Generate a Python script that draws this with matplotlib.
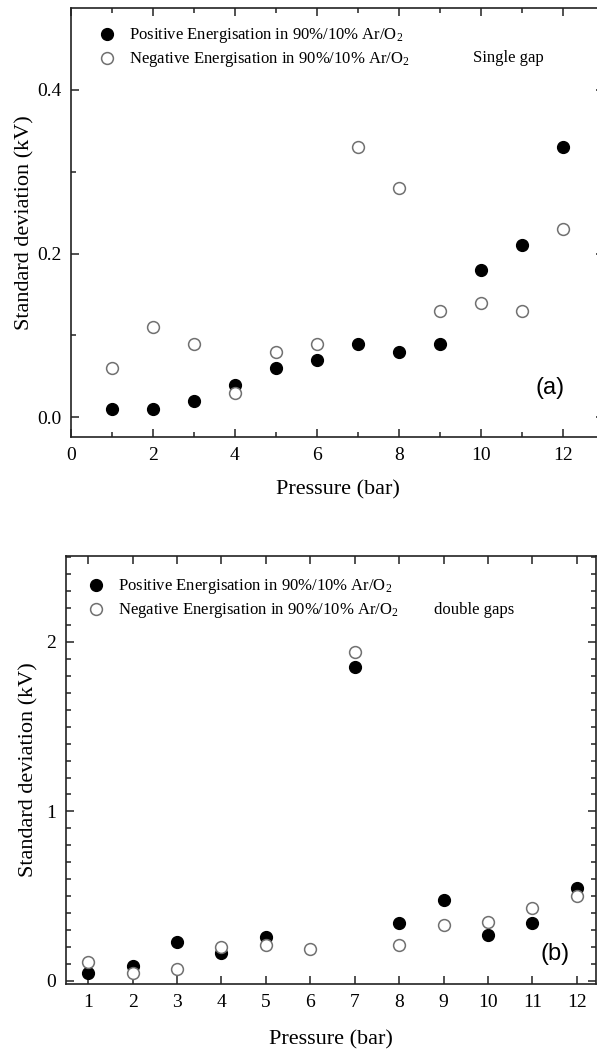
import numpy as np
import matplotlib
matplotlib.use("Agg")
import matplotlib.pyplot as plt
from matplotlib.ticker import MultipleLocator, FixedLocator

plt.rcParams['font.family'] = ['Liberation Serif', 'DejaVu Serif']
plt.rcParams['mathtext.fontset'] = 'custom'
plt.rcParams['mathtext.rm'] = 'Liberation Serif'
plt.rcParams['mathtext.it'] = 'Liberation Serif:italic'

# ---- data ----
pressure = np.arange(1, 13)
single_pos = [0.01, 0.01, 0.02, 0.04, 0.06, 0.07, 0.09, 0.08, 0.09, 0.18, 0.21, 0.33]
single_neg = [0.06, 0.11, 0.09, 0.03, 0.08, 0.09, 0.33, 0.28, 0.13, 0.14, 0.13, 0.23]
double_pos = [0.045, 0.09, 0.23, 0.165, 0.26, np.nan, 1.85, 0.34, 0.48, 0.27, 0.34, 0.55]
double_neg = [0.11, 0.045, 0.07, 0.20, 0.21, 0.19, 1.94, 0.21, 0.33, 0.35, 0.43, 0.50]
label_pos = 'Positive Energisation in 90%/10% Ar/O$_\\mathregular{2}$'
label_neg = 'Negative Energisation in 90%/10% Ar/O$_\\mathregular{2}$'
xlabel = 'Pressure (bar)'
ylabel = 'Standard deviation (kV)'

W, H = 597, 1050
fig = plt.figure(figsize=(W / 100, H / 100), dpi=100)

def px_axes(l, r, t, b):
    return fig.add_axes([l / W, 1 - b / H, (r - l) / W, (b - t) / H])

ax1 = px_axes(71, 604, 8, 437)
ax2 = px_axes(66, 596, 556, 984)

ms = 8.5
neg_edge = '#707070'

def style(ax):
    for s in ax.spines.values():
        s.set_linewidth(1.2)
        s.set_color('#222222')
    ax.tick_params(which='both', direction='in', top=True, right=True,
                   width=1.1, color='#222222')
    ax.tick_params(which='major', length=6, labelsize=14, pad=7)
    ax.tick_params(which='minor', length=3.5)

# --- panel (a) ---
ax1.plot(pressure, single_pos, 'o', color='black', ms=ms, ls='none', label=label_pos)
ax1.plot(pressure, single_neg, 'o', mfc='white', mec=neg_edge, mew=1.1, ms=ms, ls='none', label=label_neg)
ax1.set_xlim(0, 13)
ax1.set_ylim(-0.024, 0.5)
ax1.xaxis.set_major_locator(MultipleLocator(2))
ax1.xaxis.set_minor_locator(MultipleLocator(1))
ax1.yaxis.set_major_locator(FixedLocator([0.0, 0.2, 0.4]))
ax1.yaxis.set_minor_locator(FixedLocator([0.1, 0.3]))
ax1.set_yticklabels(['0.0', '0.2', '0.4'])
style(ax1)
ax1.set_xlabel(xlabel, fontsize=16, labelpad=12)
ax1.set_ylabel(ylabel, fontsize=16, labelpad=2)
ax1.legend(loc='upper left', bbox_to_anchor=(0.052, 0.957), frameon=False,
           fontsize=12, handlelength=1.0, handletextpad=0.8, labelspacing=0.3,
           borderpad=0, borderaxespad=0)
ax1.text(0.82, 0.883, 'Single gap', transform=ax1.transAxes, fontsize=12,
         ha='center', va='center')
ax1.text(0.898, 0.114, '(a)', transform=ax1.transAxes, fontsize=17,
         family=['Liberation Sans', 'DejaVu Sans'], ha='center', va='center')

# --- panel (b) ---
ax2.plot(pressure, double_pos, 'o', color='black', ms=ms, ls='none', label=label_pos)
ax2.plot(pressure, double_neg, 'o', mfc='white', mec=neg_edge, mew=1.1, ms=ms, ls='none', label=label_neg)
ax2.set_xlim(0.5, 12.43)
ax2.set_ylim(-0.018, 2.507)
ax2.xaxis.set_major_locator(MultipleLocator(1))
ax2.yaxis.set_major_locator(MultipleLocator(1))
ax2.yaxis.set_minor_locator(MultipleLocator(0.1))
style(ax2)
ax2.set_xlabel(xlabel, fontsize=16, labelpad=14)
ax2.set_ylabel(ylabel, fontsize=16, labelpad=6)
ax2.legend(loc='upper left', bbox_to_anchor=(0.041, 0.95), frameon=False,
           fontsize=12, handlelength=1.0, handletextpad=0.8, labelspacing=0.3,
           borderpad=0, borderaxespad=0)
ax2.text(0.77, 0.875, 'double gaps', transform=ax2.transAxes, fontsize=12,
         ha='center', va='center')
ax2.text(0.922, 0.07, '(b)', transform=ax2.transAxes, fontsize=17,
         family=['Liberation Sans', 'DejaVu Sans'], ha='center', va='center')

fig.savefig('out.png', dpi=100)
